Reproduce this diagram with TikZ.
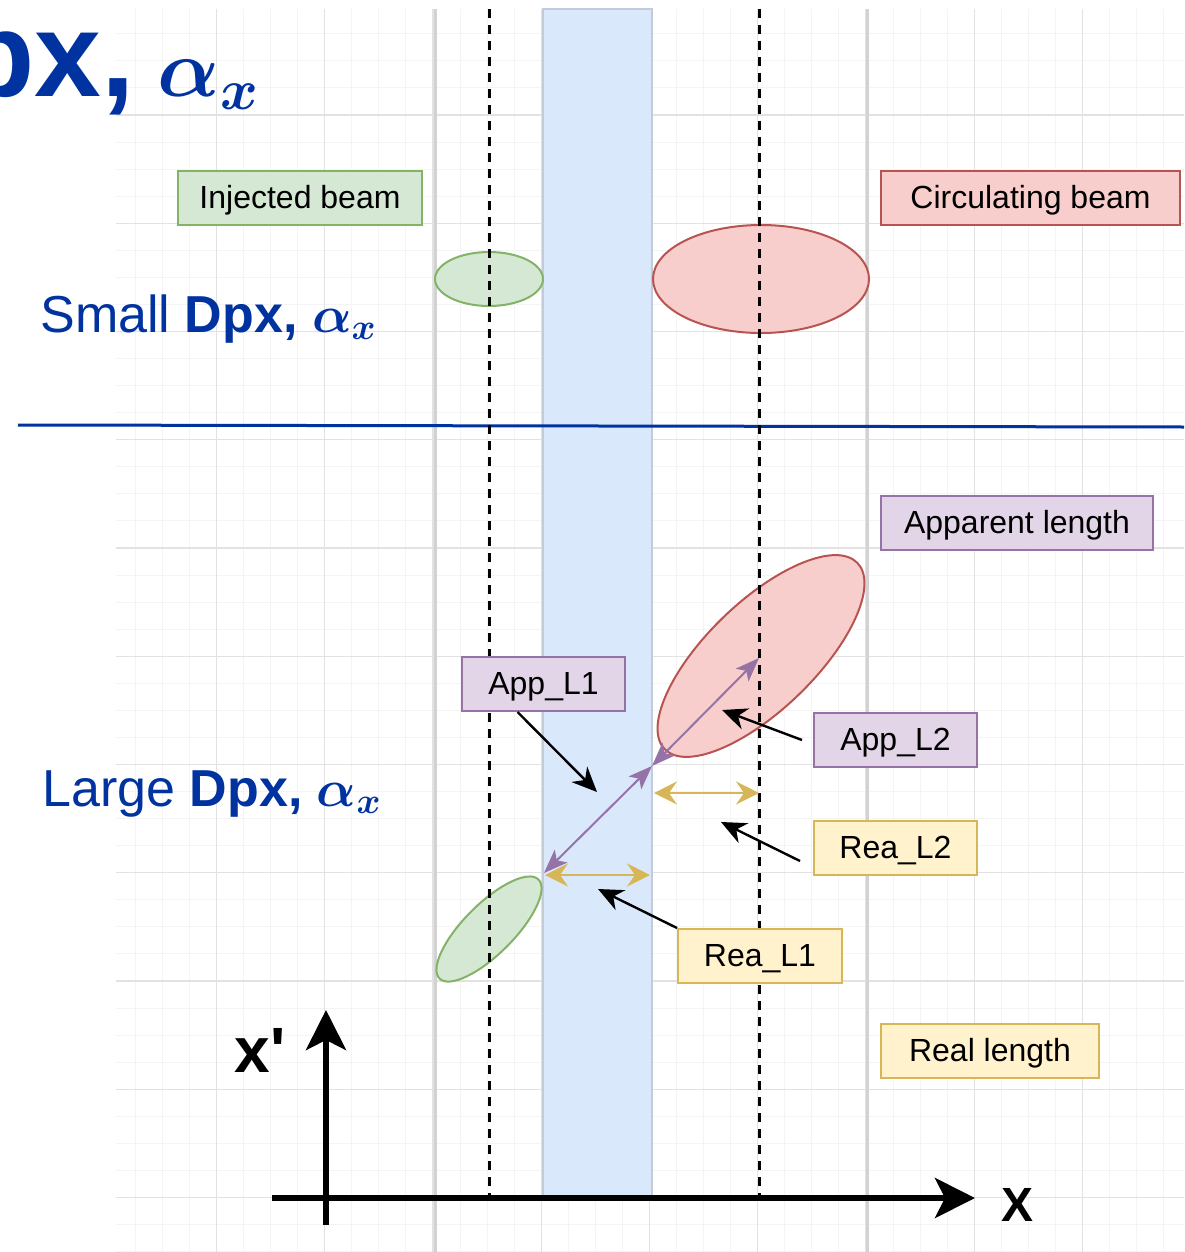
\documentclass[tikz,border=0pt]{standalone}
\usepackage{fix-cm}
\usepackage{fontspec}
\usepackage{bm}
\setmainfont{Liberation Sans}
\usetikzlibrary{arrows.meta,shapes.geometric}

\definecolor{titleblue}{HTML}{0033A0}
\definecolor{gridminor}{HTML}{F4F4F4}
\definecolor{gridmajor}{HTML}{E2E2E2}
\definecolor{railgray}{HTML}{D2D2D2}
\definecolor{pipefill}{HTML}{DAE8FC}
\definecolor{pipeedge}{HTML}{C2CBD8}
\definecolor{injfill}{HTML}{D5E8D4}
\definecolor{injedge}{HTML}{82B366}
\definecolor{circfill}{HTML}{F8CECC}
\definecolor{circedge}{HTML}{B85450}
\definecolor{appfill}{HTML}{E1D5E7}
\definecolor{appedge}{HTML}{9673A6}
\definecolor{reafill}{HTML}{FFF2CC}
\definecolor{reaedge}{HTML}{D6B656}

\tikzset{
  gridline/.style={gridminor, line width=0.5pt},
  gridbold/.style={gridmajor, line width=0.6pt},
  labelbox/.style={draw, line width=1pt, minimum height=27pt, inner sep=0pt,
    text height=12pt, text depth=2pt, font=\fontsize{16}{19}\selectfont},
  injbox/.style={labelbox, fill=injfill, draw=injedge},
  circbox/.style={labelbox, fill=circfill, draw=circedge},
  appbox/.style={labelbox, fill=appfill, draw=appedge},
  reabox/.style={labelbox, fill=reafill, draw=reaedge},
  beam/.style={ellipse, inner sep=0pt, line width=1pt},
  centreline/.style={dash pattern=on 4.5pt off 3.5pt, line width=1.5pt},
  callout/.style={-{Stealth[length=12.5pt,width=11pt,inset=4pt]}, line width=1.2pt},
  apparrow/.style={{Stealth[length=12pt,width=9pt,inset=3pt]}-{Stealth[length=12pt,width=9pt,inset=3pt]},
    draw=appedge, line width=1pt},
  reaarrow/.style={{Stealth[length=11.5pt,width=11.5pt,inset=4pt]}-{Stealth[length=11.5pt,width=11.5pt,inset=4pt]},
    draw=reaedge, line width=1pt},
  axisarrow/.style={-{Stealth[length=20pt,width=20pt,inset=5pt]}, line width=3pt},
  heading/.style={anchor=base west, inner sep=0pt, text=titleblue}
}

\begin{document}
\begin{tikzpicture}[x=0.5pt, y=-0.5pt]
  \useasboundingbox (0,0) rectangle (1184,1252);

  % background grid
  \begin{scope}
    \clip (116,9) rectangle (1184,1252);
    \foreach \k in {0,...,46} {
      \draw[gridline] ({108.25+27.0625*\k},9) -- ++(0,1243);
      \draw[gridline] (116,{6.75+27.0625*\k}) -- ++(1068,0);
    }
    \foreach \k in {0,...,11} {
      \draw[gridbold] ({108.25+108.25*\k},9) -- ++(0,1243);
      \draw[gridbold] (116,{6.75+108.25*\k}) -- ++(1068,0);
    }
  \end{scope}

  % aperture and septum
  \draw[railgray, line width=1.5pt] (435,9) -- (435,1252);
  \draw[railgray, line width=1.5pt] (867,9) -- (867,1252);
  \draw[fill=pipefill, draw=pipeedge, line width=1.2pt] (543,9) rectangle (652,1197);

  % separator
  \draw[titleblue, line width=1.5pt] (18,425) -- (1184,427);

  % beams
  \node[beam, fill=injfill, draw=injedge, minimum width=54pt, minimum height=27pt] (injsmall) at (489,279) {};
  \node[beam, fill=circfill, draw=circedge, minimum width=108pt, minimum height=54pt] (circsmall) at (761,279) {};
  \node[beam, fill=circfill, draw=circedge, minimum width=134pt, minimum height=54pt, rotate=44] (circlarge) at (761,656) {};
  \node[beam, fill=injfill, draw=injedge, minimum width=70pt, minimum height=25pt, rotate=45] (injlarge) at (489,929) {};

  % beam centres
  \draw[centreline] (489,9) -- (489,1197);
  \draw[centreline] (759,9) -- (759,1197);

  % headings
  \node[heading, font=\fontsize{60}{60}\selectfont\bfseries] (head) at (-39,97)
    {px,\hspace{11.5pt}{\fontsize{41}{41}\selectfont$\bm{\alpha_x}$}};
  \node[heading, font=\fontsize{26}{30}\selectfont] (small) at (40,332) {Small \textbf{Dpx,} $\bm{\alpha_x}$};
  \node[heading, font=\fontsize{26}{30}\selectfont] (large) at (42,806) {Large \textbf{Dpx,} $\bm{\alpha_x}$};

  % legend boxes
  \node[injbox, minimum width=122pt] (inj) at (300,198) {Injected beam};
  \node[circbox, minimum width=149.5pt] (circ) at (1030.5,198) {Circulating beam};
  \node[appbox, minimum width=136pt] (apparent) at (1017,523) {Apparent length};
  \node[reabox, minimum width=109pt] (reallen) at (990,1051) {Real length};
  \node[appbox, minimum width=81.5pt] (appl1) at (543.5,684) {App\_L1};
  \node[appbox, minimum width=81.5pt] (appl2) at (895.5,740) {App\_L2};
  \node[reabox, minimum width=81.5pt] (real2) at (895.5,848) {Rea\_L2};
  \node[reabox, minimum width=82pt] (real1) at (760,956) {Rea\_L1};

  % lengths
  \coordinate (plow) at (544,873);
  \coordinate (pmid) at (652,766);
  \coordinate (phigh) at (759,658);
  \draw[apparrow] (plow) -- (pmid);
  \draw[apparrow] (pmid) -- (phigh);
  \coordinate (rl1a) at (545,875);
  \coordinate (rl1b) at (650,875);
  \coordinate (rl2a) at (654,793);
  \coordinate (rl2b) at (759,793);
  \draw[reaarrow] (rl1a) -- (rl1b);
  \draw[reaarrow] (rl2a) -- (rl2b);

  % callouts
  \coordinate (tapp1) at (597,792);
  \coordinate (tapp2) at (722,710);
  \coordinate (trea2) at (721,822);
  \coordinate (trea1) at (598,889);
  \draw[callout] ([xshift=-13pt]appl1.south) -- (tapp1);
  \draw[callout] ([xshift=-5.5pt]appl2.west) -- (tapp2);
  \draw[callout] ([xshift=-6.5pt,yshift=-6.5pt]real2.west) -- (trea2);
  \draw[callout] (real1.north west) -- (trea1);

  % phase space axes
  \coordinate (xstart) at (272,1198);
  \coordinate (xend) at (975,1198);
  \coordinate (ystart) at (326,1225);
  \coordinate (yend) at (326,1010);
  \draw[axisarrow] (xstart) -- (xend);
  \draw[axisarrow] (ystart) -- (yend);
  \node[font=\fontsize{32}{32}\selectfont\bfseries] (xplab) at (260,1050) {x\textquotesingle};
  \node[font=\fontsize{24}{24}\selectfont\bfseries] (xlab) at (1017,1205) {X};
\end{tikzpicture}
\end{document}
